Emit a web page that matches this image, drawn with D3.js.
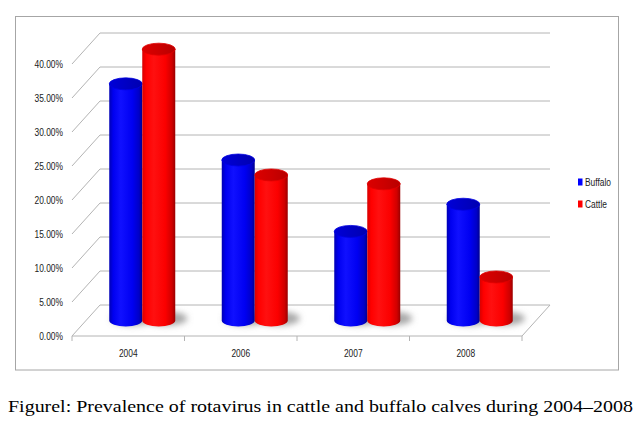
<!DOCTYPE html>
<html>
<head>
<meta charset="utf-8">
<script src="https://cdn.jsdelivr.net/npm/d3@7"></script>
<style>
  body { margin: 0; background: #fff; }
  svg { display: block; }
  .tick-label { font-family: "Liberation Sans", Arial, sans-serif; font-size: 10.5px; fill: #1a1a1a; }
</style>
</head>
<body>
<svg id="chart" width="642" height="443"></svg>
<script>
// ---- data ----
const categories = ["2004", "2006", "2007", "2008"];
const seriesNames = ["Buffalo", "Cattle"];
const buffalo = [34.8, 23.6, 13.1, 17.1];
const cattle = [39.9, 21.4, 20.1, 6.4];
const yTicks = [0, 5, 10, 15, 20, 25, 30, 35, 40];
const yTickLabels = ["0.00%", "5.00%", "10.00%", "15.00%", "20.00%", "25.00%", "30.00%", "35.00%", "40.00%"];
const caption = "Figurel: Prevalence of rotavirus in cattle and buffalo calves during 2004–2008";

// ---- layout ----
const svg = d3.select("#chart");
const W = 642, H = 443;
const x0 = 72, x1 = 522, yBase = 336, yTop = 64;
const depthX = 28, depthY = -31;
const midX = depthX / 2, midY = depthY / 2;
const narrow = 0.8; // horizontal compression to mimic a condensed UI font

const x = d3.scaleBand().domain(categories).range([x0, x1]);
const y = d3.scaleLinear().domain([0, 40]).range([yBase, yTop]);
const inner = d3.scaleBand().domain(seriesNames).range([0, 66]);

svg.append("rect").attr("width", W).attr("height", H).attr("fill", "#fff");

// frame
svg.append("rect").attr("x", 15.5).attr("y", 16.5).attr("width", 603).attr("height", 353.5)
  .attr("fill", "none").attr("stroke", "#a6a6a6").attr("stroke-width", 1);

const defs = svg.append("defs");
function grad(id, stops) {
  const g = defs.append("linearGradient").attr("id", id).attr("x1", "0%").attr("x2", "100%").attr("y1", "0%").attr("y2", "0%");
  stops.forEach(s => g.append("stop").attr("offset", s[0]).attr("stop-color", s[1]));
}
grad("gBlue", [["0%", "#0000b4"], ["12%", "#0000f0"], ["35%", "#1010ff"], ["70%", "#0000f2"], ["90%", "#0000c8"], ["100%", "#000090"]]);
grad("gRed", [["0%", "#d80000"], ["12%", "#ff0000"], ["35%", "#ff1010"], ["70%", "#fb0000"], ["90%", "#d00000"], ["100%", "#9a0000"]]);
grad("gBlueTop", [["0%", "#0000d8"], ["50%", "#0000c4"], ["100%", "#0000b0"]]);
grad("gRedTop", [["0%", "#dc0000"], ["50%", "#cc0000"], ["100%", "#b80000"]]);
defs.append("filter").attr("id", "blur").attr("x", "-50%").attr("y", "-100%").attr("width", "200%").attr("height", "300%")
  .append("feGaussianBlur").attr("stdDeviation", 3);

// gridlines: left wall diagonals + back wall horizontals
const grid = svg.append("g").attr("stroke", "#b4b4b4").attr("stroke-width", 1).attr("fill", "none");
yTicks.forEach(t => {
  const yy = y(t);
  grid.append("line").attr("x1", x0).attr("y1", yy).attr("x2", x0 + depthX).attr("y2", yy + depthY);
  grid.append("line").attr("x1", x0 + depthX).attr("y1", yy + depthY).attr("x2", x1 + depthX).attr("y2", yy + depthY);
});
// floor edges
grid.append("line").attr("x1", x0).attr("y1", yBase).attr("x2", x1).attr("y2", yBase);
grid.append("line").attr("x1", x1).attr("y1", yBase).attr("x2", x1 + depthX).attr("y2", yBase + depthY);
// category tick marks
const tickXs = categories.map(c => x(c)).concat([x1]);
tickXs.forEach(xx => {
  grid.append("line").attr("x1", xx).attr("y1", yBase).attr("x2", xx).attr("y2", yBase + 5);
});

function squeeze(sel) {
  sel.each(function () {
    const len = this.getComputedTextLength();
    d3.select(this).attr("textLength", len * narrow).attr("lengthAdjust", "spacingAndGlyphs");
  });
}

// y tick labels
svg.append("g").selectAll("text").data(yTicks).join("text")
  .attr("class", "tick-label")
  .attr("x", 63).attr("y", d => y(d)).attr("dy", "0.35em")
  .attr("text-anchor", "end")
  .text((d, i) => yTickLabels[i])
  .call(squeeze);

// category labels
svg.append("g").selectAll("text").data(categories).join("text")
  .attr("class", "tick-label")
  .attr("x", d => x(d) + x.bandwidth() / 2).attr("y", 353).attr("dy", "0.35em")
  .attr("text-anchor", "middle")
  .text(d => d)
  .call(squeeze);

// bars
const rx = inner.bandwidth() / 2, ry = 6;
const bars = [];
categories.forEach((c, i) => {
  bars.push({ cat: c, s: "Buffalo", v: buffalo[i] });
  bars.push({ cat: c, s: "Cattle", v: cattle[i] });
});
bars.forEach(b => {
  b.cx = x(b.cat) + x.bandwidth() / 2 - 33 + inner(b.s) + rx + midX;
  b.yb = yBase + midY;
  b.yt = y(b.v) + midY;
});

// shadows
const sh = svg.append("g").attr("filter", "url(#blur)");
bars.forEach(b => {
  sh.append("ellipse").attr("cx", b.cx + 7).attr("cy", b.yb - 2).attr("rx", rx + 5).attr("ry", 7)
    .attr("fill", "#8a8a8a").attr("opacity", 0.75);
});

const bg = svg.append("g");
bars.forEach(b => {
  const isB = b.s === "Buffalo";
  const body = `M${b.cx - rx},${b.yt} L${b.cx - rx},${b.yb} A${rx},${ry} 0 0 0 ${b.cx + rx},${b.yb} L${b.cx + rx},${b.yt} Z`;
  bg.append("path").attr("d", body).attr("fill", isB ? "url(#gBlue)" : "url(#gRed)");
  bg.append("ellipse").attr("cx", b.cx).attr("cy", b.yt).attr("rx", rx).attr("ry", ry)
    .attr("fill", isB ? "url(#gBlueTop)" : "url(#gRedTop)")
    .attr("stroke", isB ? "#0000e0" : "#e00000").attr("stroke-width", 0.8);
});

// legend
const legend = svg.append("g");
const legColors = { Buffalo: "#0000ff", Cattle: "#ff0000" };
const legY = [182, 204];
seriesNames.forEach((s, i) => {
  legend.append("rect").attr("x", 578).attr("y", legY[i] - 3.5).attr("width", 4.5).attr("height", 7).attr("fill", legColors[s]);
  legend.append("text").attr("class", "tick-label").attr("x", 585).attr("y", legY[i]).attr("dy", "0.35em").text(s).call(squeeze);
});

// caption
svg.append("text").attr("x", 8).attr("y", 412)
  .attr("font-family", "'Liberation Serif', 'DejaVu Serif', serif").attr("font-size", 17).attr("fill", "#000")
  .attr("textLength", 625).attr("lengthAdjust", "spacingAndGlyphs")
  .text(caption);
</script>
</body>
</html>
